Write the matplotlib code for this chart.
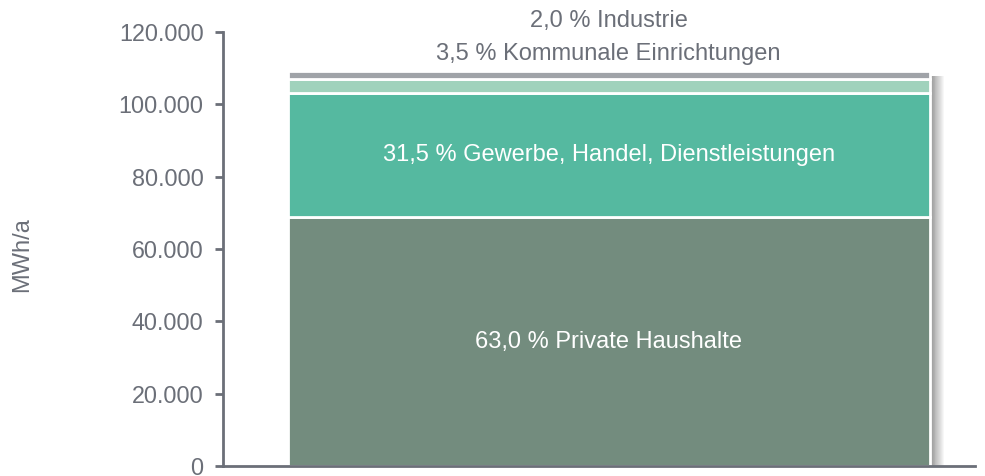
import matplotlib.pyplot as plt
import numpy as np

plt.rcParams['font.family'] = ['Liberation Sans', 'DejaVu Sans']

# Data
segments = ['Private Haushalte', 'Gewerbe, Handel, Dienstleistungen',
            'Kommunale Einrichtungen', 'Industrie']
values = [68800, 34400, 3820, 2180]
shares = ['63,0', '31,5', '3,5', '2,0']
colors = ['#738c7e', '#55b9a0', '#a0d2bc', '#a0a3a8']
yticks = [0, 20000, 40000, 60000, 80000, 100000, 120000]
ytick_labels = ['0', '20.000', '40.000', '60.000', '80.000', '100.000', '120.000']

text_color = '#6b6f78'
axis_color = '#6b6f78'

fig = plt.figure(figsize=(9.85, 4.76), dpi=100)
ax = fig.add_axes([0.2264, 0.021, 0.7636, 0.912])

xc = 0.513
w = 0.854
total = sum(values)

# soft blurred shadow on the right side of the bar
for k in range(16):
    ax.bar(xc + k * 0.0012, total - 1500, width=w, bottom=0, color='black',
           alpha=0.03, linewidth=0, zorder=1)

bottom = 0
for v, c in zip(values, colors):
    ax.bar(xc, v, width=w, bottom=bottom, color=c, edgecolor='white',
           linewidth=2, zorder=2)
    bottom += v

# labels inside the bar
ax.text(xc, values[0] / 2, f'{shares[0]} % {segments[0]}', ha='center',
        va='center', color='white', fontsize=17, zorder=3)
ax.text(xc, values[0] + values[1] / 2, f'{shares[1]} % {segments[1]}',
        ha='center', va='center', color='white', fontsize=17, zorder=3)

# labels above the bar
fig.text(0.618, 0.956, f'{shares[3]} % {segments[3]}', ha='center', va='center',
         color=text_color, fontsize=17)
fig.text(0.618, 0.887, f'{shares[2]} % {segments[2]}', ha='center', va='center',
         color=text_color, fontsize=17)

ax.set_xlim(0, 1)
ax.set_ylim(0, 120000)
ax.set_yticks(yticks)
ax.set_yticklabels(ytick_labels)
ax.set_xticks([])
ax.tick_params(axis='y', colors=axis_color, labelcolor=text_color, labelsize=16.8,
               length=6, width=2, pad=8)
for side in ['top', 'right']:
    ax.spines[side].set_visible(False)
for side in ['left', 'bottom']:
    ax.spines[side].set_color(axis_color)
    ax.spines[side].set_linewidth(2)

fig.text(0.022, 0.465, 'MWh/a', rotation=90, ha='center', va='center',
         color=text_color, fontsize=17)

fig.savefig('out.png', dpi=100)
